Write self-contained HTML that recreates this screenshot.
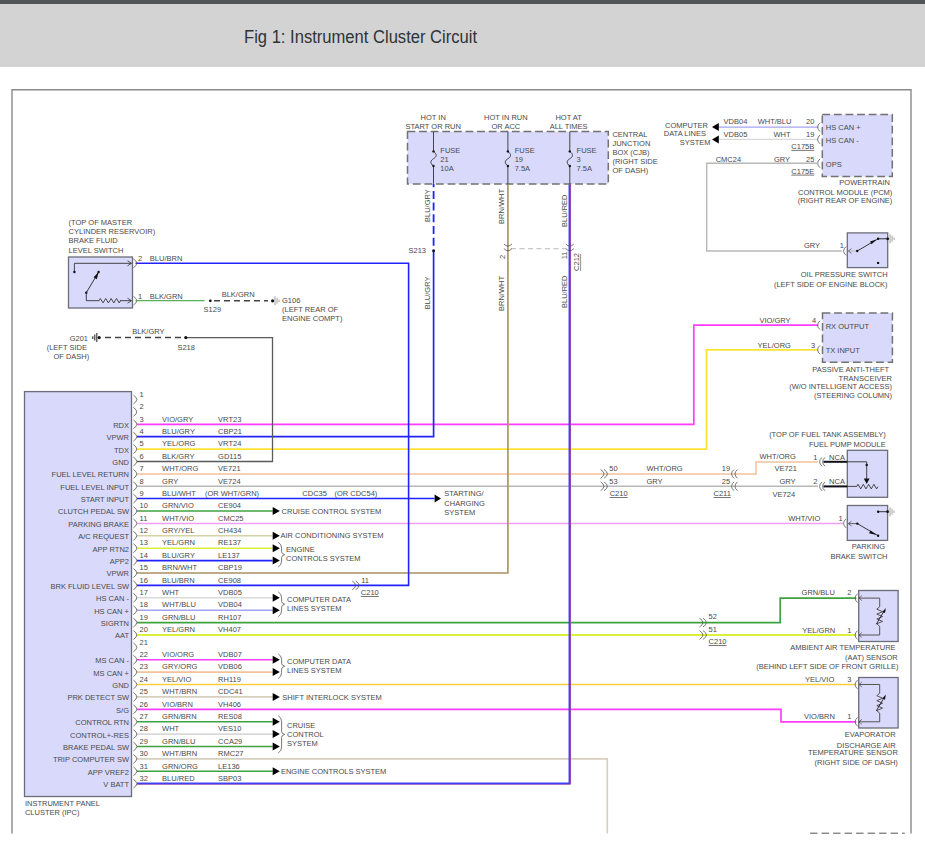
<!DOCTYPE html>
<html><head><meta charset="utf-8">
<style>
html,body{margin:0;padding:0;background:#fff;width:925px;height:851px;overflow:hidden;}
.hdr{position:absolute;left:0;top:0;width:925px;height:67px;background:#d3d3d3;}
.bar{position:absolute;left:0;top:0;width:925px;height:4px;background:#535458;}
.title{position:absolute;left:244.4px;top:26.3px;transform:scaleX(0.921);transform-origin:0 0;font-family:"Liberation Sans",sans-serif;font-size:18px;color:#2e3338;white-space:nowrap;line-height:22px;}
svg{position:absolute;left:0;top:0;}
svg text{font-family:"Liberation Sans",sans-serif;font-size:7.5px;fill:#4a4a4a;}
</style></head><body>
<div class="hdr"></div><div class="bar"></div>
<div class="title">Fig 1: Instrument Cluster Circuit</div>
<svg width="925" height="851" viewBox="0 0 925 851">
<path d="M12.0,833.5 L12.0,89.7 L911.0,89.7 L911.0,833.5" fill="none" stroke="#8a8a8a" stroke-width="1.4"/>
<path d="M810.1,833.2 H904.7" stroke="#555" stroke-width="1.0" stroke-dasharray="7.4,4.1" fill="none"/>
<rect x="24.5" y="391.6" width="107.0" height="404.9" fill="#d9d9fb" stroke="#6c6c7a" stroke-width="1.3"/>
<text x="139.6" y="396.7">1</text>
<text x="139.6" y="409.1">2</text>
<text x="129.0" y="427.7" text-anchor="end">RDX</text>
<text x="139.6" y="421.5">3</text>
<text x="162.1" y="421.5">VIO/GRY</text>
<text x="218.1" y="421.5">VRT23</text>
<text x="129.0" y="440.1" text-anchor="end">VPWR</text>
<text x="139.6" y="433.9">4</text>
<text x="162.1" y="433.9">BLU/GRY</text>
<text x="218.1" y="433.9">CBP21</text>
<text x="129.0" y="452.5" text-anchor="end">TDX</text>
<text x="139.6" y="446.3">5</text>
<text x="162.1" y="446.3">YEL/ORG</text>
<text x="218.1" y="446.3">VRT24</text>
<text x="129.0" y="464.9" text-anchor="end">GND</text>
<text x="139.6" y="458.7">6</text>
<text x="162.1" y="458.7">BLK/GRY</text>
<text x="218.1" y="458.7">GD115</text>
<text x="129.0" y="477.3" text-anchor="end">FUEL LEVEL RETURN</text>
<text x="139.6" y="471.1">7</text>
<text x="162.1" y="471.1">WHT/ORG</text>
<text x="218.1" y="471.1">VE721</text>
<text x="129.0" y="489.7" text-anchor="end">FUEL LEVEL INPUT</text>
<text x="139.6" y="483.5">8</text>
<text x="162.1" y="483.5">GRY</text>
<text x="218.1" y="483.5">VE724</text>
<text x="129.0" y="502.0" text-anchor="end">START INPUT</text>
<text x="139.6" y="495.8">9</text>
<text x="162.1" y="495.8">BLU/WHT</text>
<text x="129.0" y="514.4" text-anchor="end">CLUTCH PEDAL SW</text>
<text x="139.6" y="508.2">10</text>
<text x="162.1" y="508.2">GRN/VIO</text>
<text x="218.1" y="508.2">CE904</text>
<text x="129.0" y="526.8" text-anchor="end">PARKING BRAKE</text>
<text x="139.6" y="520.6">11</text>
<text x="162.1" y="520.6">WHT/VIO</text>
<text x="218.1" y="520.6">CMC25</text>
<text x="129.0" y="539.2" text-anchor="end">A/C REQUEST</text>
<text x="139.6" y="533.0">12</text>
<text x="162.1" y="533.0">GRY/YEL</text>
<text x="218.1" y="533.0">CH434</text>
<text x="129.0" y="551.6" text-anchor="end">APP RTN2</text>
<text x="139.6" y="545.4">13</text>
<text x="162.1" y="545.4">YEL/GRN</text>
<text x="218.1" y="545.4">RE137</text>
<text x="129.0" y="564.0" text-anchor="end">APP2</text>
<text x="139.6" y="557.8">14</text>
<text x="162.1" y="557.8">BLU/GRY</text>
<text x="218.1" y="557.8">LE137</text>
<text x="129.0" y="576.4" text-anchor="end">VPWR</text>
<text x="139.6" y="570.2">15</text>
<text x="162.1" y="570.2">BRN/WHT</text>
<text x="218.1" y="570.2">CBP19</text>
<text x="129.0" y="588.8" text-anchor="end">BRK FLUID LEVEL SW</text>
<text x="139.6" y="582.6">16</text>
<text x="162.1" y="582.6">BLU/BRN</text>
<text x="218.1" y="582.6">CE908</text>
<text x="129.0" y="601.2" text-anchor="end">HS CAN -</text>
<text x="139.6" y="595.0">17</text>
<text x="162.1" y="595.0">WHT</text>
<text x="218.1" y="595.0">VDB05</text>
<text x="129.0" y="613.6" text-anchor="end">HS CAN +</text>
<text x="139.6" y="607.4">18</text>
<text x="162.1" y="607.4">WHT/BLU</text>
<text x="218.1" y="607.4">VDB04</text>
<text x="129.0" y="626.0" text-anchor="end">SIGRTN</text>
<text x="139.6" y="619.8">19</text>
<text x="162.1" y="619.8">GRN/BLU</text>
<text x="218.1" y="619.8">RH107</text>
<text x="129.0" y="638.4" text-anchor="end">AAT</text>
<text x="139.6" y="632.2">20</text>
<text x="162.1" y="632.2">YEL/GRN</text>
<text x="218.1" y="632.2">VH407</text>
<text x="139.6" y="644.6">21</text>
<text x="129.0" y="663.2" text-anchor="end">MS CAN -</text>
<text x="139.6" y="657.0">22</text>
<text x="162.1" y="657.0">VIO/ORG</text>
<text x="218.1" y="657.0">VDB07</text>
<text x="129.0" y="675.5" text-anchor="end">MS CAN +</text>
<text x="139.6" y="669.3">23</text>
<text x="162.1" y="669.3">GRY/ORG</text>
<text x="218.1" y="669.3">VDB06</text>
<text x="129.0" y="687.9" text-anchor="end">GND</text>
<text x="139.6" y="681.7">24</text>
<text x="162.1" y="681.7">YEL/VIO</text>
<text x="218.1" y="681.7">RH119</text>
<text x="129.0" y="700.3" text-anchor="end">PRK DETECT SW</text>
<text x="139.6" y="694.1">25</text>
<text x="162.1" y="694.1">WHT/BRN</text>
<text x="218.1" y="694.1">CDC41</text>
<text x="129.0" y="712.7" text-anchor="end">S/G</text>
<text x="139.6" y="706.5">26</text>
<text x="162.1" y="706.5">VIO/BRN</text>
<text x="218.1" y="706.5">VH406</text>
<text x="129.0" y="725.1" text-anchor="end">CONTROL RTN</text>
<text x="139.6" y="718.9">27</text>
<text x="162.1" y="718.9">GRN/BRN</text>
<text x="218.1" y="718.9">RES08</text>
<text x="129.0" y="737.5" text-anchor="end">CONTROL+-RES</text>
<text x="139.6" y="731.3">28</text>
<text x="162.1" y="731.3">WHT</text>
<text x="218.1" y="731.3">VES10</text>
<text x="129.0" y="749.9" text-anchor="end">BRAKE PEDAL SW</text>
<text x="139.6" y="743.7">29</text>
<text x="162.1" y="743.7">GRN/BLU</text>
<text x="218.1" y="743.7">CCA29</text>
<text x="129.0" y="762.3" text-anchor="end">TRIP COMPUTER SW</text>
<text x="139.6" y="756.1">30</text>
<text x="162.1" y="756.1">WHT/BRN</text>
<text x="218.1" y="756.1">RMC27</text>
<text x="129.0" y="774.7" text-anchor="end">APP VREF2</text>
<text x="139.6" y="768.5">31</text>
<text x="162.1" y="768.5">GRN/ORG</text>
<text x="218.1" y="768.5">LE136</text>
<text x="129.0" y="787.1" text-anchor="end">V BATT</text>
<text x="139.6" y="780.9">32</text>
<text x="162.1" y="780.9">BLU/RED</text>
<text x="218.1" y="780.9">SBP03</text>
<text x="204.9" y="495.8">(OR WHT/GRN)</text>
<text x="302.3" y="495.8">CDC35</text>
<text x="334.4" y="495.8">(OR CDC54)</text>
<text x="24.9" y="806.0">INSTRUMENT PANEL</text>
<text x="24.9" y="814.8">CLUSTER (IPC)</text>
<path d="M137.0,424.3 L693.8,424.3 L693.8,325.2 L818.2,325.2" fill="none" stroke="#ff3cff" stroke-width="1.7"/>
<path d="M137.0,436.7 L433.6,436.7 L433.6,250.9" fill="none" stroke="#2222ff" stroke-width="1.7"/>
<path d="M433.6,184 V250.9" stroke="#2222ff" stroke-width="1.8" stroke-dasharray="8,3.7" stroke-dashoffset="4.8" fill="none"/>
<path d="M137.0,449.1 L706.5,449.1 L706.5,349.8 L818.2,349.8" fill="none" stroke="#fde433" stroke-width="1.8"/>
<path d="M137.0,461.5 L272.5,461.5 L272.5,337.6 L185.8,337.6" fill="none" stroke="#5a5a5a" stroke-width="1.3"/>
<path d="M181,337.6 H104" stroke="#444" stroke-width="1.5" stroke-dasharray="6,4" fill="none"/>
<path d="M137.0,473.9 L756.0,473.9 L756.0,462.0 L818.0,462.0" fill="none" stroke="#f1c29c" stroke-width="1.5"/>
<path d="M137.0,486.3 L818.0,486.3" fill="none" stroke="#b8b8b8" stroke-width="1.5"/>
<path d="M137.0,498.6 L434.6,498.6" fill="none" stroke="#2222ff" stroke-width="1.5"/>
<path d="M434.6,494.6 L441.0,498.6 L434.6,502.6 Z" fill="#000"/>
<path d="M137.0,523.4 L843.0,523.4" fill="none" stroke="#f0a0f0" stroke-width="1.5"/>
<path d="M137.0,511.0 L272.7,511.0" fill="none" stroke="#3ea33e" stroke-width="1.6"/>
<path d="M272.7,507.0 L279.8,511.0 L272.7,515.0 Z" fill="#000"/>
<path d="M137.0,535.8 L272.7,535.8" fill="none" stroke="#d4d2a8" stroke-width="1.6"/>
<path d="M272.7,531.8 L279.8,535.8 L272.7,539.8 Z" fill="#000"/>
<path d="M137.0,548.2 L272.7,548.2" fill="none" stroke="#dcf03a" stroke-width="1.6"/>
<path d="M272.7,544.2 L279.8,548.2 L272.7,552.2 Z" fill="#000"/>
<path d="M137.0,560.6 L272.7,560.6" fill="none" stroke="#2222ff" stroke-width="1.6"/>
<path d="M272.7,556.6 L279.8,560.6 L272.7,564.6 Z" fill="#000"/>
<path d="M137.0,597.8 L272.7,597.8" fill="none" stroke="#d9d9d9" stroke-width="1.6"/>
<path d="M272.7,593.8 L279.8,597.8 L272.7,601.8 Z" fill="#000"/>
<path d="M137.0,610.2 L272.7,610.2" fill="none" stroke="#a4a4f2" stroke-width="1.6"/>
<path d="M272.7,606.2 L279.8,610.2 L272.7,614.2 Z" fill="#000"/>
<path d="M137.0,659.8 L272.7,659.8" fill="none" stroke="#ff3cff" stroke-width="1.6"/>
<path d="M272.7,655.8 L279.8,659.8 L272.7,663.8 Z" fill="#000"/>
<path d="M137.0,672.1 L272.7,672.1" fill="none" stroke="#f1c29c" stroke-width="1.6"/>
<path d="M272.7,668.1 L279.8,672.1 L272.7,676.1 Z" fill="#000"/>
<path d="M137.0,696.9 L272.7,696.9" fill="none" stroke="#d6cfbd" stroke-width="1.6"/>
<path d="M272.7,692.9 L279.8,696.9 L272.7,700.9 Z" fill="#000"/>
<path d="M137.0,721.7 L272.7,721.7" fill="none" stroke="#3ea33e" stroke-width="1.6"/>
<path d="M272.7,717.7 L279.8,721.7 L272.7,725.7 Z" fill="#000"/>
<path d="M137.0,734.1 L272.7,734.1" fill="none" stroke="#d9d9d9" stroke-width="1.6"/>
<path d="M272.7,730.1 L279.8,734.1 L272.7,738.1 Z" fill="#000"/>
<path d="M137.0,746.5 L272.7,746.5" fill="none" stroke="#3ea33e" stroke-width="1.6"/>
<path d="M272.7,742.5 L279.8,746.5 L272.7,750.5 Z" fill="#000"/>
<path d="M137.0,771.3 L272.7,771.3" fill="none" stroke="#3ea33e" stroke-width="1.6"/>
<path d="M272.7,767.3 L279.8,771.3 L272.7,775.3 Z" fill="#000"/>
<path d="M137.0,573.0 L507.9,573.0 L507.9,184.0" fill="none" stroke="#a8915e" stroke-width="1.6"/>
<path d="M137.0,585.4 L408.6,585.4 L408.6,263.3 L135.5,263.3" fill="none" stroke="#2222ff" stroke-width="1.6"/>
<path d="M137.0,622.6 L780.2,622.6 L780.2,598.1 L856.3,598.1" fill="none" stroke="#3ea33e" stroke-width="1.7"/>
<path d="M137.0,635.0 L856.3,635.0" fill="none" stroke="#dcf03a" stroke-width="1.8"/>
<path d="M137.0,684.5 L856.3,684.5" fill="none" stroke="#fbcf3c" stroke-width="1.6"/>
<path d="M137.0,709.3 L781.0,709.3 L781.0,721.8 L856.3,721.8" fill="none" stroke="#ff3cff" stroke-width="1.7"/>
<path d="M137.0,758.9 L607.3,758.9 L607.3,833.5" fill="none" stroke="#d6cfbd" stroke-width="1.6"/>
<path d="M137.0,784.2 L570.5,784.2 L570.5,184.0" fill="none" stroke="#b04c98" stroke-width="1.0"/>
<path d="M137.0,783.3 L569.4,783.3 L569.4,184.0" fill="none" stroke="#4040f8" stroke-width="1.7"/>
<path d="M133.4,395.1 Q140.2,399.5 133.4,403.9" fill="none" stroke="#555" stroke-width="0.8"/>
<path d="M133.4,407.5 Q140.2,411.9 133.4,416.3" fill="none" stroke="#555" stroke-width="0.8"/>
<path d="M133.4,419.9 Q140.2,424.3 133.4,428.7" fill="none" stroke="#555" stroke-width="0.8"/>
<path d="M133.4,432.3 Q140.2,436.7 133.4,441.1" fill="none" stroke="#555" stroke-width="0.8"/>
<path d="M133.4,444.7 Q140.2,449.1 133.4,453.5" fill="none" stroke="#555" stroke-width="0.8"/>
<path d="M133.4,457.1 Q140.2,461.5 133.4,465.9" fill="none" stroke="#555" stroke-width="0.8"/>
<path d="M133.4,469.5 Q140.2,473.9 133.4,478.3" fill="none" stroke="#555" stroke-width="0.8"/>
<path d="M133.4,481.9 Q140.2,486.3 133.4,490.7" fill="none" stroke="#555" stroke-width="0.8"/>
<path d="M133.4,494.2 Q140.2,498.6 133.4,503.0" fill="none" stroke="#555" stroke-width="0.8"/>
<path d="M133.4,506.6 Q140.2,511.0 133.4,515.4" fill="none" stroke="#555" stroke-width="0.8"/>
<path d="M133.4,519.0 Q140.2,523.4 133.4,527.8" fill="none" stroke="#555" stroke-width="0.8"/>
<path d="M133.4,531.4 Q140.2,535.8 133.4,540.2" fill="none" stroke="#555" stroke-width="0.8"/>
<path d="M133.4,543.8 Q140.2,548.2 133.4,552.6" fill="none" stroke="#555" stroke-width="0.8"/>
<path d="M133.4,556.2 Q140.2,560.6 133.4,565.0" fill="none" stroke="#555" stroke-width="0.8"/>
<path d="M133.4,568.6 Q140.2,573.0 133.4,577.4" fill="none" stroke="#555" stroke-width="0.8"/>
<path d="M133.4,581.0 Q140.2,585.4 133.4,589.8" fill="none" stroke="#555" stroke-width="0.8"/>
<path d="M133.4,593.4 Q140.2,597.8 133.4,602.2" fill="none" stroke="#555" stroke-width="0.8"/>
<path d="M133.4,605.8 Q140.2,610.2 133.4,614.6" fill="none" stroke="#555" stroke-width="0.8"/>
<path d="M133.4,618.2 Q140.2,622.6 133.4,627.0" fill="none" stroke="#555" stroke-width="0.8"/>
<path d="M133.4,630.6 Q140.2,635.0 133.4,639.4" fill="none" stroke="#555" stroke-width="0.8"/>
<path d="M133.4,643.0 Q140.2,647.4 133.4,651.8" fill="none" stroke="#555" stroke-width="0.8"/>
<path d="M133.4,655.4 Q140.2,659.8 133.4,664.2" fill="none" stroke="#555" stroke-width="0.8"/>
<path d="M133.4,667.7 Q140.2,672.1 133.4,676.5" fill="none" stroke="#555" stroke-width="0.8"/>
<path d="M133.4,680.1 Q140.2,684.5 133.4,688.9" fill="none" stroke="#555" stroke-width="0.8"/>
<path d="M133.4,692.5 Q140.2,696.9 133.4,701.3" fill="none" stroke="#555" stroke-width="0.8"/>
<path d="M133.4,704.9 Q140.2,709.3 133.4,713.7" fill="none" stroke="#555" stroke-width="0.8"/>
<path d="M133.4,717.3 Q140.2,721.7 133.4,726.1" fill="none" stroke="#555" stroke-width="0.8"/>
<path d="M133.4,729.7 Q140.2,734.1 133.4,738.5" fill="none" stroke="#555" stroke-width="0.8"/>
<path d="M133.4,742.1 Q140.2,746.5 133.4,750.9" fill="none" stroke="#555" stroke-width="0.8"/>
<path d="M133.4,754.5 Q140.2,758.9 133.4,763.3" fill="none" stroke="#555" stroke-width="0.8"/>
<path d="M133.4,766.9 Q140.2,771.3 133.4,775.7" fill="none" stroke="#555" stroke-width="0.8"/>
<path d="M133.4,779.3 Q140.2,783.7 133.4,788.1" fill="none" stroke="#555" stroke-width="0.8"/>
<text x="281.6" y="513.6">CRUISE CONTROL SYSTEM</text>
<text x="280.5" y="538.4">AIR CONDITIONING SYSTEM</text>
<text x="286.0" y="552.0">ENGINE</text>
<text x="286.0" y="560.9">CONTROLS SYSTEM</text>
<text x="287.0" y="602.2">COMPUTER DATA</text>
<text x="287.0" y="611.1">LINES SYSTEM</text>
<text x="287.0" y="663.8">COMPUTER DATA</text>
<text x="287.0" y="672.8">LINES SYSTEM</text>
<text x="282.3" y="699.5">SHIFT INTERLOCK SYSTEM</text>
<text x="287.0" y="728.0">CRUISE</text>
<text x="287.0" y="737.0">CONTROL</text>
<text x="287.0" y="745.9">SYSTEM</text>
<text x="280.9" y="773.9">ENGINE CONTROLS SYSTEM</text>
<text x="444.3" y="496.2">STARTING/</text>
<text x="444.3" y="505.5">CHARGING</text>
<text x="444.3" y="514.8">SYSTEM</text>
<path d="M278.2,542.2 Q281.6,544.2 281.6,548.2 V551.7 Q281.6,553.9 284.7,554.7 Q281.6,555.5 281.6,557.7 V561.1 Q281.6,565.1 278.2,567.1" fill="none" stroke="#555" stroke-width="0.8"/>
<path d="M278.2,591.8 Q281.6,593.8 281.6,597.8 V601.2 Q281.6,603.4 284.7,604.2 Q281.6,605.0 281.6,607.2 V610.7 Q281.6,614.7 278.2,616.7" fill="none" stroke="#555" stroke-width="0.8"/>
<path d="M278.2,653.8 Q281.6,655.8 281.6,659.8 V663.2 Q281.6,665.4 284.7,666.2 Q281.6,667.0 281.6,669.2 V672.6 Q281.6,676.6 278.2,678.6" fill="none" stroke="#555" stroke-width="0.8"/>
<path d="M278.2,715.7 Q281.6,717.7 281.6,721.7 V731.4 Q281.6,733.6 284.7,734.4 Q281.6,735.2 281.6,737.4 V747.0 Q281.6,751.0 278.2,753.0" fill="none" stroke="#555" stroke-width="0.8"/>
<path d="M352.2,581.0 Q359.0,585.4 352.2,589.8" fill="none" stroke="#555" stroke-width="0.8"/>
<path d="M355.7,581.0 Q362.5,585.4 355.7,589.8" fill="none" stroke="#555" stroke-width="0.8"/>
<text x="361.2" y="582.9">11</text>
<text x="360.8" y="595.0" text-decoration="underline">C210</text>
<rect x="68.5" y="257.0" width="64.0" height="51.0" fill="#d9d9fb" stroke="#6c6c7a" stroke-width="1.3"/>
<text x="68.6" y="224.7">(TOP OF MASTER</text>
<text x="68.6" y="233.9">CYLINDER RESERVOIR)</text>
<text x="68.6" y="243.0">BRAKE FLUID</text>
<text x="68.6" y="252.6">LEVEL SWITCH</text>
<path d="M74.4,272.0 L74.4,263.3 L131.5,263.3" fill="none" stroke="#333" stroke-width="0.9"/>
<path d="M127.5,260.8 L131.5,263.3 L127.5,265.8" fill="none" stroke="#333" stroke-width="0.8"/>
<circle cx="74.4" cy="272.0" r="1.2" fill="#111"/>
<path d="M86.3,292.7 L98.6,272.0" fill="none" stroke="#222" stroke-width="0.9"/>
<path d="M98.6,272 L93.6,277.3 L96.8,279.2 Z" fill="#111"/>
<circle cx="98.6" cy="272.0" r="1.2" fill="#111"/>
<circle cx="86.3" cy="292.7" r="1.2" fill="#111"/>
<path d="M86.3,292.7 L86.3,300.7 L99.0,300.7" fill="none" stroke="#333" stroke-width="0.9"/>
<path d="M99.0,300.7 L100.3,298.5 L103.0,302.9 L104.4,300.7 L105.7,298.5 L108.4,302.9 L109.8,300.7 L111.1,298.5 L113.8,302.9 L115.1,300.7 L116.5,298.5 L119.2,302.9 L120.5,300.7" fill="none" stroke="#333" stroke-width="0.9"/>
<path d="M120.0,300.7 L131.5,300.7" fill="none" stroke="#333" stroke-width="0.9"/>
<path d="M127.5,298.2 L131.5,300.7 L127.5,303.2" fill="none" stroke="#333" stroke-width="0.8"/>
<path d="M133.4,258.9 Q140.2,263.3 133.4,267.7" fill="none" stroke="#555" stroke-width="0.8"/>
<path d="M133.4,296.3 Q140.2,300.7 133.4,305.1" fill="none" stroke="#555" stroke-width="0.8"/>
<text x="138.0" y="261.0">2</text>
<text x="149.8" y="261.0">BLU/BRN</text>
<text x="138.0" y="298.5">1</text>
<text x="149.8" y="298.5">BLK/GRN</text>
<path d="M135.5,300.7 L204.6,300.7" fill="none" stroke="#58b058" stroke-width="1.3"/>
<circle cx="210.3" cy="300.8" r="1.4" fill="#111"/>
<path d="M214,300.8 H268" stroke="#444" stroke-width="1.5" stroke-dasharray="6,4" fill="none"/>
<circle cx="272.6" cy="300.8" r="1.6" fill="#111"/>
<path d="M275.0,296.3 V305.3 M277.0,297.8 V303.8 M279.0,299.5 V302.1" stroke="#aaa" stroke-width="1.1"/>
<text x="221.7" y="297.4">BLK/GRN</text>
<text x="203.6" y="311.8">S129</text>
<text x="282.0" y="302.8">G106</text>
<text x="282.0" y="311.8">(LEFT REAR OF</text>
<text x="282.0" y="320.5">ENGINE COMPT)</text>
<path d="M96.8,333.1 V342.1 M94.8,334.6 V340.6 M92.8,336.3 V338.9" stroke="#333" stroke-width="1.1"/>
<circle cx="99.2" cy="337.6" r="1.6" fill="#111"/>
<circle cx="185.8" cy="337.6" r="1.6" fill="#111"/>
<text x="88.0" y="341.0" text-anchor="end">G201</text>
<text x="132.2" y="333.6">BLK/GRY</text>
<text x="177.4" y="349.7">S218</text>
<text x="46.7" y="349.7">(LEFT SIDE</text>
<text x="53.4" y="358.7">OF DASH)</text>
<rect x="407.5" y="131.6" width="200.8" height="52.3" fill="#d9d9fb" stroke="#727272" stroke-width="1.5" stroke-dasharray="7.8,3.8"/>
<path d="M433.5,131.6 L433.5,151.4" fill="none" stroke="#333" stroke-width="0.9"/>
<path d="M433.5,151.4 C437.5,154.5 436.5,157 433.5,158.7 C430.5,160.5 429.5,163 433.5,166" fill="none" stroke="#333" stroke-width="0.9"/>
<path d="M433.5,166.0 L433.5,183.9" fill="none" stroke="#333" stroke-width="0.9"/>
<circle cx="433.5" cy="151.4" r="1.2" fill="#111"/>
<circle cx="433.5" cy="166.0" r="1.2" fill="#111"/>
<text x="440.3" y="152.5">FUSE</text>
<text x="440.3" y="161.6">21</text>
<text x="440.3" y="170.8">10A</text>
<path d="M507.9,131.6 L507.9,151.4" fill="none" stroke="#333" stroke-width="0.9"/>
<path d="M507.9,151.4 C511.9,154.5 510.9,157 507.9,158.7 C504.9,160.5 503.9,163 507.9,166" fill="none" stroke="#333" stroke-width="0.9"/>
<path d="M507.9,166.0 L507.9,183.9" fill="none" stroke="#333" stroke-width="0.9"/>
<circle cx="507.9" cy="151.4" r="1.2" fill="#111"/>
<circle cx="507.9" cy="166.0" r="1.2" fill="#111"/>
<text x="514.7" y="152.5">FUSE</text>
<text x="514.7" y="161.6">19</text>
<text x="514.7" y="170.8">7.5A</text>
<path d="M569.8,131.6 L569.8,151.4" fill="none" stroke="#333" stroke-width="0.9"/>
<path d="M569.8,151.4 C573.8,154.5 572.8,157 569.8,158.7 C566.8,160.5 565.8,163 569.8,166" fill="none" stroke="#333" stroke-width="0.9"/>
<path d="M569.8,166.0 L569.8,183.9" fill="none" stroke="#333" stroke-width="0.9"/>
<circle cx="569.8" cy="151.4" r="1.2" fill="#111"/>
<circle cx="569.8" cy="166.0" r="1.2" fill="#111"/>
<text x="576.6" y="152.5">FUSE</text>
<text x="576.6" y="161.6">3</text>
<text x="576.6" y="170.8">7.5A</text>
<text x="433.2" y="119.8" text-anchor="middle">HOT IN</text>
<text x="433.2" y="128.6" text-anchor="middle">START OR RUN</text>
<text x="505.9" y="119.8" text-anchor="middle">HOT IN RUN</text>
<text x="505.9" y="128.6" text-anchor="middle">OR ACC</text>
<text x="568.6" y="119.8" text-anchor="middle">HOT AT</text>
<text x="568.6" y="128.6" text-anchor="middle">ALL TIMES</text>
<text x="612.4" y="137.3">CENTRAL</text>
<text x="612.4" y="146.2">JUNCTION</text>
<text x="612.4" y="155.2">BOX (CJB)</text>
<text x="612.4" y="164.2">(RIGHT SIDE</text>
<text x="612.4" y="173.1">OF DASH)</text>
<circle cx="433.6" cy="250.9" r="1.4" fill="#111"/>
<text x="426.0" y="253.4" text-anchor="end">S213</text>
<text transform="translate(430.0,222.0) rotate(-90)" x="0" y="0">BLU/GRY</text>
<text transform="translate(430.0,309.3) rotate(-90)" x="0" y="0">BLU/GRY</text>
<text transform="translate(504.0,224.0) rotate(-90)" x="0" y="0">BRN/WHT</text>
<text transform="translate(504.0,311.0) rotate(-90)" x="0" y="0">BRN/WHT</text>
<text transform="translate(567.2,227.0) rotate(-90)" x="0" y="0">BLU/RED</text>
<text transform="translate(567.2,308.0) rotate(-90)" x="0" y="0">BLU/RED</text>
<path d="M511,248.6 H566" stroke="#c8c8c8" stroke-width="1.3" stroke-dasharray="5,3.5" fill="none"/>
<path d="M503.9,244.0 Q507.9,248.4 511.9,244.0" fill="none" stroke="#555" stroke-width="0.8"/>
<path d="M503.9,248.6 Q507.9,253.0 511.9,248.6" fill="none" stroke="#555" stroke-width="0.8"/>
<path d="M565.8,244.0 Q569.8,248.4 573.8,244.0" fill="none" stroke="#555" stroke-width="0.8"/>
<path d="M565.8,248.6 Q569.8,253.0 573.8,248.6" fill="none" stroke="#555" stroke-width="0.8"/>
<text transform="translate(505.0,259.0) rotate(-90)" x="0" y="0">2</text>
<text transform="translate(566.9,259.3) rotate(-90)" x="0" y="0">11</text>
<text transform="translate(579.3,270.9) rotate(-90)" x="0" y="0">C212</text>
<path d="M580.6,254.0 L580.6,271.0" fill="none" stroke="#666" stroke-width="0.7"/>
<rect x="822.3" y="114.6" width="70.0" height="61.9" fill="#d9d9fb" stroke="#727272" stroke-width="1.5" stroke-dasharray="7.8,3.8"/>
<text x="825.8" y="129.9">HS CAN +</text>
<text x="825.8" y="142.9">HS CAN -</text>
<text x="825.8" y="166.7">OPS</text>
<path d="M718.6,127.1 L818.5,127.1" fill="none" stroke="#a4a4f2" stroke-width="1.3"/>
<path d="M718.6,139.4 L818.5,139.4" fill="none" stroke="#d9d9d9" stroke-width="1.3"/>
<path d="M718.8,123.1 L712.0,127.1 L718.8,131.1 Z" fill="#000"/>
<path d="M718.8,135.4 L712.0,139.4 L718.8,143.4 Z" fill="#000"/>
<path d="M820.0,122.7 Q815.2,127.1 820.0,131.5" fill="none" stroke="#555" stroke-width="0.8"/>
<path d="M820.0,135.0 Q815.2,139.4 820.0,143.8" fill="none" stroke="#555" stroke-width="0.8"/>
<path d="M820.0,158.9 Q815.2,163.3 820.0,167.7" fill="none" stroke="#555" stroke-width="0.8"/>
<text x="708.0" y="127.6" text-anchor="end">COMPUTER</text>
<text x="706.0" y="136.3" text-anchor="end">DATA LINES</text>
<text x="710.5" y="145.4" text-anchor="end">SYSTEM</text>
<text x="723.6" y="124.1">VDB04</text>
<text x="757.7" y="124.1">WHT/BLU</text>
<text x="806.0" y="124.1">20</text>
<text x="723.6" y="136.7">VDB05</text>
<text x="773.5" y="136.7">WHT</text>
<text x="806.0" y="136.7">19</text>
<text x="791.3" y="148.9" text-decoration="underline">C175B</text>
<text x="715.7" y="162.0">CMC24</text>
<text x="774.0" y="162.0">GRY</text>
<text x="806.0" y="162.0">25</text>
<text x="791.3" y="173.7" text-decoration="underline">C175E</text>
<text x="890.0" y="185.3" text-anchor="end">POWERTRAIN</text>
<text x="892.3" y="194.7" text-anchor="end">CONTROL MODULE (PCM)</text>
<text x="892.3" y="203.4" text-anchor="end">(RIGHT REAR OF ENGINE)</text>
<path d="M818.5,163.3 L706.7,163.3 L706.7,251.0 L841.8,251.0" fill="none" stroke="#b8b8b8" stroke-width="1.4"/>
<rect x="847.3" y="232.9" width="40.4" height="34.7" fill="#d9d9fb" stroke="#6c6c7a" stroke-width="1.3"/>
<path d="M846.0,246.6 Q841.2,251.0 846.0,255.4" fill="none" stroke="#555" stroke-width="0.8"/>
<text x="803.9" y="248.1">GRY</text>
<text x="839.8" y="248.1">1</text>
<path d="M848.5,251.0 L857.2,251.0" fill="none" stroke="#bbb" stroke-width="1.0"/>
<path d="M851.5,248.6 L848.3,251.0 L851.5,253.4" fill="none" stroke="#444" stroke-width="0.7"/>
<path d="M857.2,251.0 L878.1,238.8 L887.7,238.8" fill="none" stroke="#222" stroke-width="0.9"/>
<path d="M876.5,239.6 L870,241.6 L871.6,244.2 Z" fill="#111"/>
<circle cx="857.2" cy="251.0" r="1.2" fill="#111"/>
<circle cx="878.1" cy="238.8" r="1.2" fill="#111"/>
<circle cx="887.7" cy="238.8" r="1.4" fill="#111"/>
<circle cx="878.1" cy="262.9" r="1.2" fill="#111"/>
<path d="M890.1,234.3 V243.3 M892.1,235.8 V241.8 M894.1,237.5 V240.1" stroke="#aaa" stroke-width="1.1"/>
<text x="887.6" y="277.3" text-anchor="end">OIL PRESSURE SWITCH</text>
<text x="887.6" y="286.7" text-anchor="end">(LEFT SIDE OF ENGINE BLOCK)</text>
<rect x="822.5" y="313.0" width="69.9" height="49.2" fill="#d9d9fb" stroke="#727272" stroke-width="1.5" stroke-dasharray="7.8,3.8"/>
<path d="M820.0,320.8 Q815.2,325.2 820.0,329.6" fill="none" stroke="#555" stroke-width="0.8"/>
<path d="M820.0,345.4 Q815.2,349.8 820.0,354.2" fill="none" stroke="#555" stroke-width="0.8"/>
<text x="825.7" y="329.3">RX OUTPUT</text>
<text x="825.7" y="353.1">TX INPUT</text>
<text x="759.4" y="323.2">VIO/GRY</text>
<text x="811.9" y="323.2">4</text>
<text x="757.6" y="347.6">YEL/ORG</text>
<text x="811.0" y="347.6">3</text>
<text x="889.2" y="371.7" text-anchor="end">PASSIVE ANTI-THEFT</text>
<text x="891.9" y="380.7" text-anchor="end">TRANSCEIVER</text>
<text x="892.0" y="389.4" text-anchor="end">(W/O INTELLIGENT ACCESS)</text>
<text x="892.0" y="398.2" text-anchor="end">(STEERING COLUMN)</text>
<path d="M600.6,469.5 Q607.4,473.9 600.6,478.3" fill="none" stroke="#555" stroke-width="0.8"/>
<path d="M604.0,469.5 Q610.8,473.9 604.0,478.3" fill="none" stroke="#555" stroke-width="0.8"/>
<path d="M734.0,469.5 Q729.2,473.9 734.0,478.3" fill="none" stroke="#555" stroke-width="0.8"/>
<path d="M737.4,469.5 Q732.6,473.9 737.4,478.3" fill="none" stroke="#555" stroke-width="0.8"/>
<path d="M600.6,481.9 Q607.4,486.3 600.6,490.7" fill="none" stroke="#555" stroke-width="0.8"/>
<path d="M604.0,481.9 Q610.8,486.3 604.0,490.7" fill="none" stroke="#555" stroke-width="0.8"/>
<path d="M734.0,481.9 Q729.2,486.3 734.0,490.7" fill="none" stroke="#555" stroke-width="0.8"/>
<path d="M737.4,481.9 Q732.6,486.3 737.4,490.7" fill="none" stroke="#555" stroke-width="0.8"/>
<text x="609.3" y="470.9">50</text>
<text x="609.3" y="484.0">53</text>
<text x="609.7" y="496.1" text-decoration="underline">C210</text>
<text x="646.4" y="470.9">WHT/ORG</text>
<text x="646.4" y="484.0">GRY</text>
<text x="721.8" y="470.9">19</text>
<text x="721.8" y="484.0">25</text>
<text x="713.5" y="496.1" text-decoration="underline">C211</text>
<text x="759.5" y="458.7">WHT/ORG</text>
<text x="774.4" y="470.9">VE721</text>
<text x="779.5" y="484.0">GRY</text>
<text x="772.6" y="496.8">VE724</text>
<rect x="847.3" y="450.3" width="40.3" height="47.0" fill="#d9d9fb" stroke="#6c6c7a" stroke-width="1.3"/>
<text x="885.7" y="437.3" text-anchor="end">(TOP OF FUEL TANK ASSEMBLY)</text>
<text x="885.7" y="447.3" text-anchor="end">FUEL PUMP MODULE</text>
<path d="M822.0,457.4 Q817.2,461.8 822.0,466.2" fill="none" stroke="#555" stroke-width="0.8"/>
<path d="M825.0,457.4 Q820.2,461.8 825.0,466.2" fill="none" stroke="#555" stroke-width="0.8"/>
<path d="M823.5,461.8 L847.3,461.8" fill="none" stroke="#111" stroke-width="2.0"/>
<text x="813.2" y="459.5">1</text>
<text x="829.1" y="459.5">NCA</text>
<path d="M822.0,482.0 Q817.2,486.4 822.0,490.8" fill="none" stroke="#555" stroke-width="0.8"/>
<path d="M825.0,482.0 Q820.2,486.4 825.0,490.8" fill="none" stroke="#555" stroke-width="0.8"/>
<path d="M823.5,486.4 L847.3,486.4" fill="none" stroke="#111" stroke-width="2.0"/>
<text x="813.2" y="484.1">2</text>
<text x="829.1" y="484.1">NCA</text>
<path d="M847.3,461.8 L866.7,461.8 L866.7,479.5" fill="none" stroke="#333" stroke-width="0.9"/>
<path d="M863.8,478.5 L866.7,484 L869.6,478.5 Z" fill="#111"/>
<circle cx="866.7" cy="465.0" r="1.2" fill="#111"/>
<path d="M847.3,486.4 L856.7,486.4" fill="none" stroke="#333" stroke-width="0.9"/>
<path d="M856.7,486.6 L858.0,484.3 L860.7,488.9 L862.0,486.6 L863.3,484.3 L866.0,488.9 L867.3,486.6 L868.6,484.3 L871.3,488.9 L872.6,486.6 L873.9,484.3 L876.6,488.9 L877.9,486.6" fill="none" stroke="#333" stroke-width="0.9"/>
<rect x="847.3" y="505.5" width="40.3" height="34.9" fill="#d9d9fb" stroke="#6c6c7a" stroke-width="1.3"/>
<path d="M846.0,519.0 Q841.2,523.4 846.0,527.8" fill="none" stroke="#555" stroke-width="0.8"/>
<text x="788.2" y="521.0">WHT/VIO</text>
<text x="838.4" y="521.0">1</text>
<path d="M848.5,523.6 L857.3,523.6" fill="none" stroke="#444" stroke-width="0.8"/>
<path d="M851.5,521.2 L848.3,523.6 L851.5,526.0" fill="none" stroke="#444" stroke-width="0.7"/>
<path d="M857.3,523.6 L878.1,535.7" fill="none" stroke="#222" stroke-width="0.9"/>
<path d="M876.5,535 L870.5,530.6 L869,533.3 Z" fill="#111"/>
<circle cx="857.3" cy="523.6" r="1.2" fill="#111"/>
<circle cx="878.1" cy="535.7" r="1.2" fill="#111"/>
<path d="M878.1,511.7 L887.6,511.7" fill="none" stroke="#222" stroke-width="0.9"/>
<circle cx="878.1" cy="511.7" r="1.2" fill="#111"/>
<circle cx="887.6" cy="511.7" r="1.4" fill="#111"/>
<path d="M890.0,507.2 V516.2 M892.0,508.7 V514.7 M894.0,510.4 V513.0" stroke="#aaa" stroke-width="1.1"/>
<text x="885.0" y="549.4" text-anchor="end">PARKING</text>
<text x="887.5" y="559.1" text-anchor="end">BRAKE SWITCH</text>
<path d="M699.5,618.2 Q706.3,622.6 699.5,627.0" fill="none" stroke="#555" stroke-width="0.8"/>
<path d="M703.0,618.2 Q709.8,622.6 703.0,627.0" fill="none" stroke="#555" stroke-width="0.8"/>
<path d="M699.5,630.6 Q706.3,635.0 699.5,639.4" fill="none" stroke="#555" stroke-width="0.8"/>
<path d="M703.0,630.6 Q709.8,635.0 703.0,639.4" fill="none" stroke="#555" stroke-width="0.8"/>
<text x="708.6" y="618.7">52</text>
<text x="708.6" y="631.9">51</text>
<text x="708.6" y="644.0" text-decoration="underline">C210</text>
<rect x="858.7" y="590.5" width="39.4" height="51.0" fill="#d9d9fb" stroke="#6c6c7a" stroke-width="1.3"/>
<path d="M857.5,593.7 Q852.7,598.1 857.5,602.5" fill="none" stroke="#555" stroke-width="0.8"/>
<path d="M857.5,630.6 Q852.7,635.0 857.5,639.4" fill="none" stroke="#555" stroke-width="0.8"/>
<path d="M858.7,598.1 L879.7,598.1 L879.7,606.8" fill="none" stroke="#555" stroke-width="1.0"/>
<path d="M858.7,635.0 L879.7,635.0 L879.7,626.3" fill="none" stroke="#555" stroke-width="1.0"/>
<path d="M879.7,606.8 L876.8,609.2 L882.6,611.7 L876.8,614.1 L882.6,616.5 L876.8,619.0 L882.6,621.4 L876.8,623.8 L879.7,626.3" fill="none" stroke="#444" stroke-width="0.9"/>
<path d="M876.3,624.2 L884.5,610.2" fill="none" stroke="#222" stroke-width="0.9"/>
<path d="M885.8,607.9 L882.3,611.9 L885.0,613.1 Z" fill="#111"/>
<path d="M861.9,595.6 L859.0,598.1 L861.9,600.6" fill="none" stroke="#444" stroke-width="0.7"/>
<path d="M861.9,632.5 L859.0,635.0 L861.9,637.5" fill="none" stroke="#444" stroke-width="0.7"/>
<text x="801.6" y="595.4">GRN/BLU</text>
<text x="847.3" y="595.4">2</text>
<text x="802.3" y="632.8">YEL/GRN</text>
<text x="847.3" y="632.8">1</text>
<text x="895.6" y="650.1" text-anchor="end">AMBIENT AIR TEMPERATURE</text>
<text x="897.8" y="659.8" text-anchor="end">(AAT) SENSOR</text>
<text x="898.5" y="669.1" text-anchor="end">(BEHIND LEFT SIDE OF FRONT GRILLE)</text>
<rect x="858.7" y="677.5" width="39.4" height="50.5" fill="#d9d9fb" stroke="#6c6c7a" stroke-width="1.3"/>
<path d="M857.5,680.1 Q852.7,684.5 857.5,688.9" fill="none" stroke="#555" stroke-width="0.8"/>
<path d="M857.5,717.4 Q852.7,721.8 857.5,726.2" fill="none" stroke="#555" stroke-width="0.8"/>
<path d="M858.7,684.5 L879.7,684.5 L879.7,693.2" fill="none" stroke="#555" stroke-width="1.0"/>
<path d="M858.7,721.8 L879.7,721.8 L879.7,713.1" fill="none" stroke="#555" stroke-width="1.0"/>
<path d="M879.7,693.2 L876.8,695.7 L882.6,698.2 L876.8,700.7 L882.6,703.2 L876.8,705.7 L882.6,708.1 L876.8,710.6 L879.7,713.1" fill="none" stroke="#444" stroke-width="0.9"/>
<path d="M876.3,710.9 L884.5,696.9" fill="none" stroke="#222" stroke-width="0.9"/>
<path d="M885.8,694.6 L882.3,698.6 L885.0,699.8 Z" fill="#111"/>
<path d="M861.9,682.0 L859.0,684.5 L861.9,687.0" fill="none" stroke="#444" stroke-width="0.7"/>
<path d="M861.9,719.3 L859.0,721.8 L861.9,724.3" fill="none" stroke="#444" stroke-width="0.7"/>
<text x="805.1" y="681.9">YEL/VIO</text>
<text x="847.3" y="681.9">3</text>
<text x="804.0" y="719.3">VIO/BRN</text>
<text x="847.3" y="719.3">1</text>
<text x="895.6" y="737.2" text-anchor="end">EVAPORATOR</text>
<text x="895.6" y="747.6" text-anchor="end">DISCHARGE AIR</text>
<text x="897.8" y="754.9" text-anchor="end">TEMPERATURE SENSOR</text>
<text x="897.8" y="764.9" text-anchor="end">(RIGHT SIDE OF DASH)</text>
</svg>
</body></html>
